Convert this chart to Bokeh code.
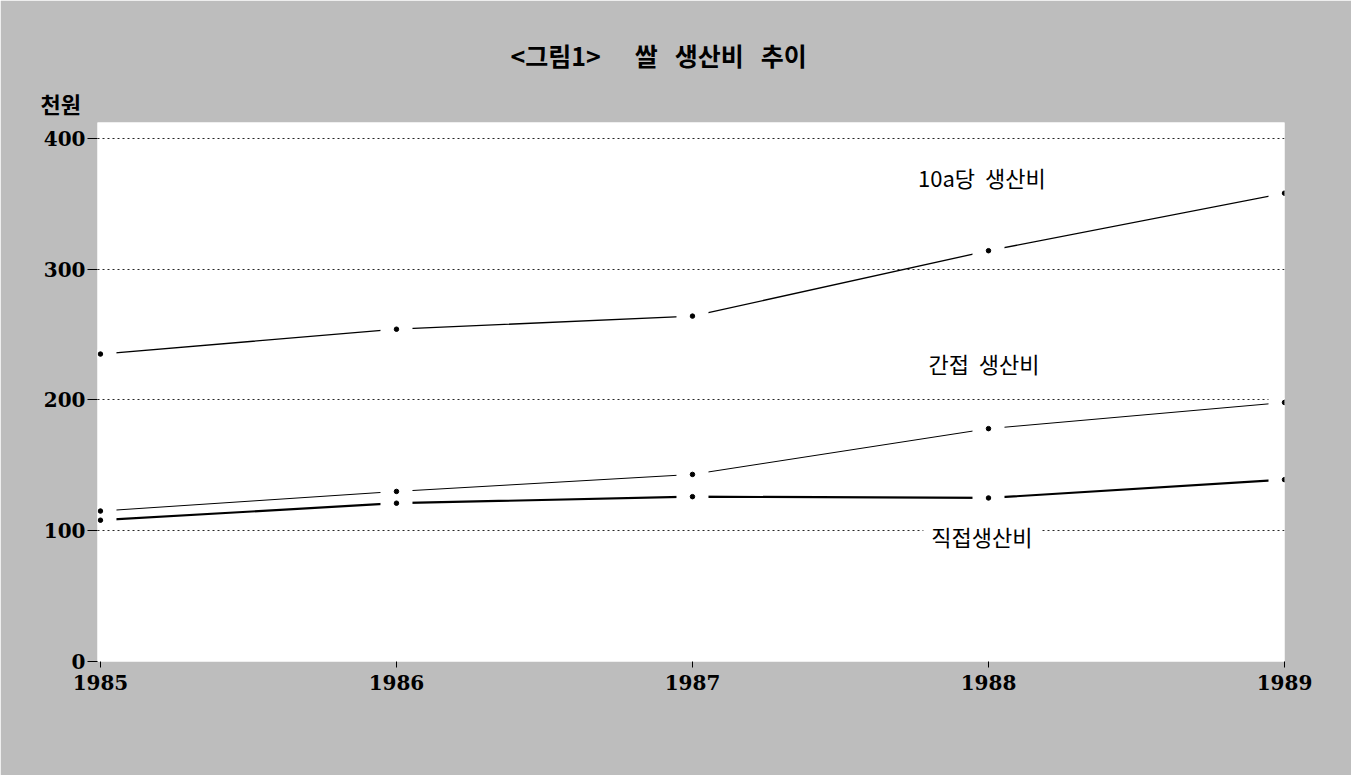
from bokeh.plotting import figure
from bokeh.models import Range1d, Label, FixedTicker, Title
from bokeh.embed import file_html
from bokeh.resources import INLINE

years = [1985, 1986, 1987, 1988, 1989]
cost_per_10a = [235, 254, 264, 314, 358]
indirect_cost = [115, 130, 143, 178, 198]
direct_cost = [108, 121, 126, 125, 139]
y_ticks = [0, 100, 200, 300, 400]

title_text = "<그림1>\u00a0\u00a0\u00a0\u00a0\u00a0\u00a0쌀\u00a0\u00a0\u00a0생산비\u00a0\u00a0\u00a0추이"
unit_text = "천원"
series_labels = ["10a당\u00a0\u00a0생산비", "간접\u00a0\u00a0생산비", "직접생산비"]

BG = "#bdbdbd"

p = figure(width=1351, height=775, output_backend="svg", toolbar_location=None,
           x_range=Range1d(1984.99, 1989.0), y_range=Range1d(0, 412),
           min_border_left=97, min_border_right=67, min_border_top=122, min_border_bottom=114,
           background_fill_color="white", border_fill_color=BG, outline_line_color=None)

# title (outermost) and unit label (just above the frame)
p.title.text = title_text
p.title.align = "left"
p.title.text_font = "Noto Sans CJK KR"
p.title.text_font_style = "bold"
p.title.text_font_size = "25px"
p.title.text_color = "black"
p.title.standoff = 17
p.title.offset = 413
p.add_layout(Title(text=unit_text, align="left", offset=-57, standoff=7,
                   text_font="Noto Sans CJK KR", text_font_style="bold",
                   text_font_size="22px", text_color="black"), "above")

# grid
p.xgrid.visible = False
p.ygrid.ticker = FixedTicker(ticks=[100, 200, 300, 400])
p.ygrid.grid_line_color = "black"
p.ygrid.grid_line_width = 1
p.ygrid.grid_line_dash = "2 3"
p.ygrid.grid_line_alpha = 0.85

# axes
for ax in (p.xaxis[0], p.yaxis[0]):
    ax.axis_line_color = None
    ax.minor_tick_line_color = None
    ax.major_tick_in = 0
    ax.major_tick_line_color = "black"
    ax.major_label_text_font = "DejaVu Serif"
    ax.major_label_text_font_style = "bold"
    ax.major_label_text_font_size = "20px"
    ax.major_label_text_color = "black"
p.xaxis.ticker = FixedTicker(ticks=years)
p.xaxis.major_tick_out = 6
p.xaxis.major_label_standoff = 7
p.yaxis.ticker = FixedTicker(ticks=y_ticks)
p.yaxis.major_tick_out = 10
p.yaxis.major_label_standoff = 2

series = [(cost_per_10a, 1.3), (indirect_cost, 1.0), (direct_cost, 2.2)]
for vals, w in series:
    p.line(years, vals, line_color="black", line_width=w)
for vals, w in series:
    p.rect(years, vals, width=32, height=9, width_units="screen", height_units="screen",
           fill_color="white", line_color=None)
for vals, w in series:
    p.scatter(years, vals, size=4.5, color="black")

# series labels
label_pos = [(1987.735, 370), (1987.77, 228), (1987.78, 96)]
for (lx, ly), t in zip(label_pos, series_labels):
    p.add_layout(Label(x=lx, y=ly, text=t, text_align="left", text_baseline="middle",
                       text_font="Noto Sans CJK KR", text_font_size="22px", text_color="black",
                       background_fill_color="white", border_line_color=None,
                       padding=8))

open("out.html", "w").write(file_html(p, INLINE))
